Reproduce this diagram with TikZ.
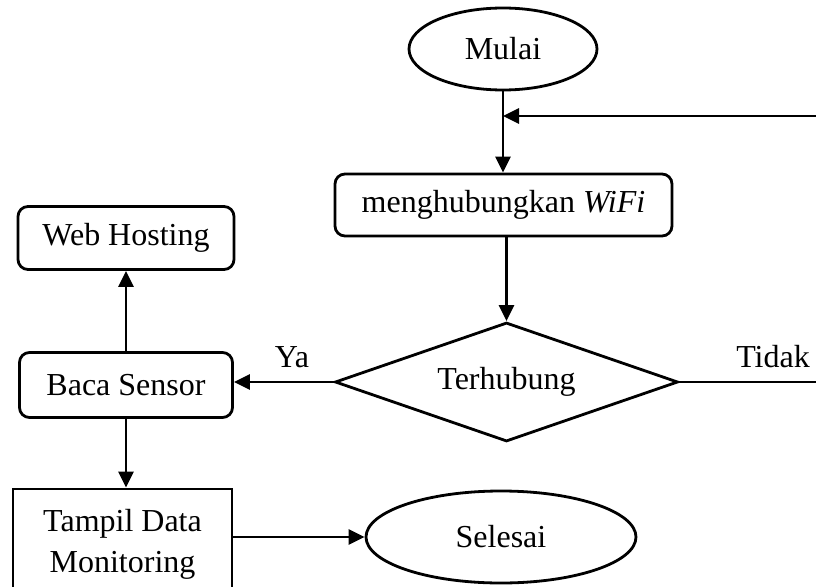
\documentclass[tikz,border=0pt]{standalone}
\usepackage{fontspec}
\setmainfont{Liberation Serif}
\usetikzlibrary{shapes.geometric,arrows.meta}
\begin{document}
\begin{tikzpicture}[x=1pt,y=-1pt,
  every node/.style={font=\fontsize{32}{41}\selectfont, line width=2.8pt, inner sep=0pt},
  term/.style={draw, ellipse},
  proc/.style={draw, rounded corners=10pt},
  plain box/.style={draw, align=center},
  decide/.style={draw, diamond, aspect=2.88},
  lbl/.style={},
  arr/.style={line width=2.8pt, -{Triangle[length=16pt,width=15pt]}}]
\useasboundingbox (0,0) rectangle (816,586);
\node[term, minimum width=188pt, minimum height=82pt] (mulai) at (503,49) {Mulai};
\node[proc, minimum width=337pt, minimum height=62pt] (wifi) at (503.5,205) {menghubungkan \textit{WiFi}};
\node[decide, minimum width=343pt, minimum height=119pt] (cek) at (506.5,382) {Terhubung};
\node[proc, minimum width=213pt, minimum height=65pt] (baca) at (126,385) {Baca Sensor};
\node[proc, minimum width=216pt, minimum height=63pt] (web) at (126,238) {Web Hosting};
\node[plain box, minimum width=219pt, minimum height=110pt] (tampil) at (122.5,544) {Tampil Data\\Monitoring};
\node[term, minimum width=270pt, minimum height=92pt] (selesai) at (501,537) {Selesai};
\node[lbl] (ya) at (292,357) {Ya};
\node[lbl] (tidak) at (773,357) {Tidak};
\coordinate (rb) at (818,382);
\coordinate (rt) at (818,116);
\coordinate (join) at (mulai.south |- rt);
\draw[arr] (mulai.south) -- (mulai.south |- wifi.north);
\draw[arr] (rb -| cek.east) -- (rb) -- (rt) -- (join);
\draw[arr] (wifi.south -| cek.north) -- (cek.north);
\draw[arr] (cek.west) -- (baca.east |- cek.west);
\draw[arr] (baca.north) -- (web.south);
\draw[arr] (baca.south) -- (baca.south |- tampil.north);
\draw[arr] (tampil.east |- selesai.west) -- (selesai.west);
\end{tikzpicture}
\end{document}
